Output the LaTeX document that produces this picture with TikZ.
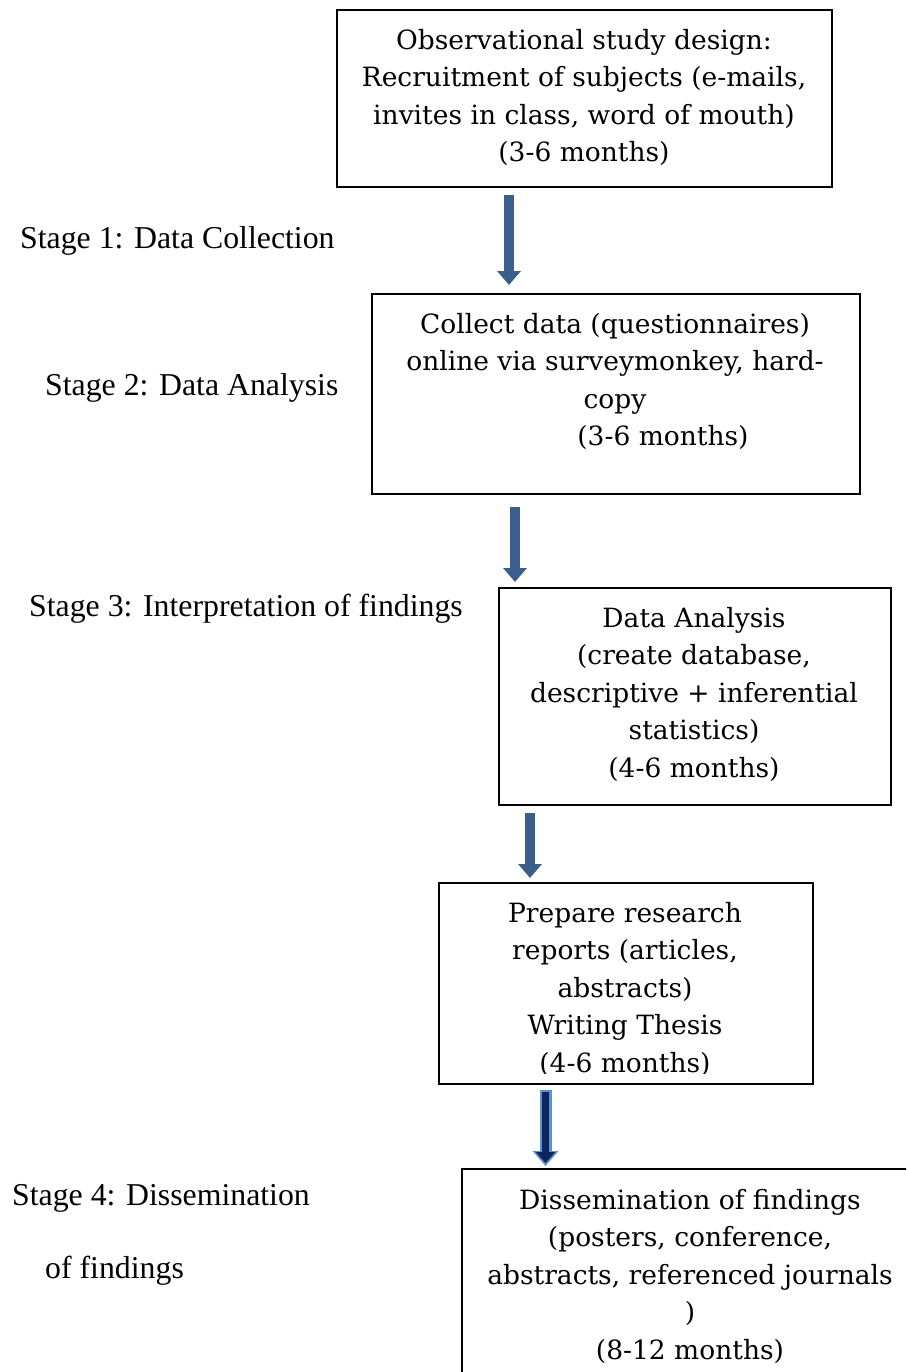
\documentclass[tikz,border=0pt]{standalone}
\usepackage{fontspec}
\setmainfont{Liberation Serif}
\newfontfamily\boxfont{DejaVu Serif}
\usetikzlibrary{arrows.meta}
\definecolor{arrowblue}{RGB}{59,94,140}
\definecolor{navyfill}{RGB}{14,38,96}
\definecolor{lightedge}{RGB}{95,145,205}

\begin{document}
\begin{tikzpicture}[x=1pt,y=-1pt,
  stepbox/.style={draw=black,line width=1.6pt,anchor=north west,inner sep=0pt},
  boxtext/.style={font=\boxfont\fontsize{26.5}{37.5}\selectfont,align=center,inner sep=0pt,anchor=north},
  stagetext/.style={font=\fontsize{31.8}{38}\selectfont,anchor=base west,inner sep=0pt},
  flow/.style={arrowblue,line width=10pt,-{Triangle[width=23pt,length=14pt]}},
  flowedge/.style={lightedge,line width=12pt,-{Triangle[width=25pt,length=15pt]}},
  flowcore/.style={navyfill,line width=7pt,-{Triangle[width=19pt,length=11pt]}},
]
\useasboundingbox (0,0) rectangle (906,1372);
\clip (0,0) rectangle (906,1372);

% process boxes
\node[stepbox,minimum width=495pt,minimum height=177pt] (b1) at (336,9) {};
\node[stepbox,minimum width=488pt,minimum height=200pt] (b2) at (371,293) {};
\node[stepbox,minimum width=392pt,minimum height=217pt] (b3) at (498,587) {};
\node[stepbox,minimum width=374pt,minimum height=201pt] (b4) at (438,882) {};
\node[stepbox,minimum width=458pt,minimum height=230pt] (b5) at (461,1168) {};

% box contents
\node[boxtext] (t1) at (584,29) {Observational study design:\\Recruitment of subjects (e-mails,\\invites in class, word of mouth)\\(3-6 months)};
\node[boxtext] (t2) at (615,313) {Collect data (questionnaires)\\online via surveymonkey, hard-\\copy\\\hspace*{96pt}(3-6 months)};
\node[boxtext] (t3) at (694,607) {Data Analysis\\(create database,\\descriptive + inferential\\statistics)\\(4-6 months)};
\begin{scope}
  \clip (440,884) rectangle (810,1073);
  \node[boxtext] (t4) at (625,902) {Prepare research\\reports (articles,\\abstracts)\\Writing Thesis\\(4-6 months)};
\end{scope}
\node[boxtext] (t5) at (690,1189) {Dissemination of findings\\(posters, conference,\\abstracts, referenced journals\\)\\(8-12 months)};

% stage labels
\node[stagetext] (s1) at (20,248) {Stage 1: Data Collection};
\node[stagetext] (s2) at (45,395) {Stage 2: Data Analysis};
\node[stagetext] (s3) at (29,616) {Stage 3: Interpretation of findings};
\node[stagetext] (s4) at (12,1205) {Stage 4: Dissemination};
\node[stagetext] (s4b) at (45,1278) {of findings};

% arrow end points
\coordinate (a1s) at (509,195);  \coordinate (a1e) at (509,285);
\coordinate (a2s) at (515,507);  \coordinate (a2e) at (515,582);
\coordinate (a3s) at (530,813);  \coordinate (a3e) at (530,878);
\coordinate (a4s) at (545.5,1090); \coordinate (a4e) at (545.5,1166);
\coordinate (a4c) at (545.5,1092); \coordinate (a4f) at (545.5,1163);

\draw[flow] (a1s) -- (a1e);
\draw[flow] (a2s) -- (a2e);
\draw[flow] (a3s) -- (a3e);
\draw[flowedge] (a4s) -- (a4e);
\draw[flowcore] (a4c) -- (a4f);
\end{tikzpicture}
\end{document}
